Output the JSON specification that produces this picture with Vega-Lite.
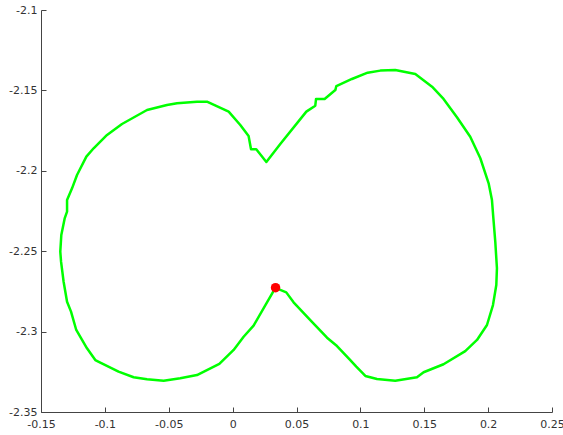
{
  "$schema": "https://vega.github.io/schema/vega-lite/v6.json",
  "width": 511,
  "height": 402,
  "autosize": {"type": "none"},
  "padding": {"left": 41, "top": 10, "right": 11, "bottom": 23},
  "background": "white",
  "config": {"view": {"stroke": null}},
  "datasets": {
    "curve": [
      {"i": 1, "x": 0.0336, "y": -2.2727},
      {"i": 2, "x": 0.0269, "y": -2.2818},
      {"i": 3, "x": 0.0164, "y": -2.2963},
      {"i": 4, "x": 0.0086, "y": -2.3032},
      {"i": 5, "x": 0.0008, "y": -2.3114},
      {"i": 6, "x": -0.0104, "y": -2.3201},
      {"i": 7, "x": -0.0279, "y": -2.327},
      {"i": 8, "x": -0.041, "y": -2.329},
      {"i": 9, "x": -0.054, "y": -2.3305},
      {"i": 10, "x": -0.067, "y": -2.3297},
      {"i": 11, "x": -0.0775, "y": -2.3284},
      {"i": 12, "x": -0.0893, "y": -2.3249},
      {"i": 13, "x": -0.1036, "y": -2.3193},
      {"i": 14, "x": -0.1075, "y": -2.3177},
      {"i": 15, "x": -0.114, "y": -2.3104},
      {"i": 16, "x": -0.1224, "y": -2.299},
      {"i": 17, "x": -0.1265, "y": -2.2876},
      {"i": 18, "x": -0.1296, "y": -2.2814},
      {"i": 19, "x": -0.1323, "y": -2.269},
      {"i": 20, "x": -0.1343, "y": -2.2565},
      {"i": 21, "x": -0.1349, "y": -2.2503},
      {"i": 22, "x": -0.1341, "y": -2.2399},
      {"i": 23, "x": -0.1314, "y": -2.2294},
      {"i": 24, "x": -0.1296, "y": -2.2254},
      {"i": 25, "x": -0.1296, "y": -2.2182},
      {"i": 26, "x": -0.1257, "y": -2.2109},
      {"i": 27, "x": -0.1218, "y": -2.2026},
      {"i": 28, "x": -0.1145, "y": -2.1912},
      {"i": 29, "x": -0.1088, "y": -2.186},
      {"i": 30, "x": -0.0983, "y": -2.1777},
      {"i": 31, "x": -0.0866, "y": -2.1709},
      {"i": 32, "x": -0.067, "y": -2.1622},
      {"i": 33, "x": -0.0514, "y": -2.1591},
      {"i": 34, "x": -0.0435, "y": -2.158},
      {"i": 35, "x": -0.0279, "y": -2.157},
      {"i": 36, "x": -0.0201, "y": -2.157},
      {"i": 37, "x": -0.0031, "y": -2.1632},
      {"i": 38, "x": 0.006, "y": -2.1715},
      {"i": 39, "x": 0.0125, "y": -2.1784},
      {"i": 40, "x": 0.0144, "y": -2.1866},
      {"i": 41, "x": 0.0185, "y": -2.1866},
      {"i": 42, "x": 0.0264, "y": -2.1945},
      {"i": 43, "x": 0.0373, "y": -2.1833},
      {"i": 44, "x": 0.0577, "y": -2.1632},
      {"i": 45, "x": 0.0647, "y": -2.1595},
      {"i": 46, "x": 0.0653, "y": -2.1553},
      {"i": 47, "x": 0.072, "y": -2.1553},
      {"i": 48, "x": 0.0804, "y": -2.1498},
      {"i": 49, "x": 0.0812, "y": -2.1473},
      {"i": 50, "x": 0.0934, "y": -2.1429},
      {"i": 51, "x": 0.1057, "y": -2.139},
      {"i": 52, "x": 0.1156, "y": -2.1377},
      {"i": 53, "x": 0.1273, "y": -2.1373},
      {"i": 54, "x": 0.143, "y": -2.1398},
      {"i": 55, "x": 0.1561, "y": -2.1477},
      {"i": 56, "x": 0.1651, "y": -2.1553},
      {"i": 57, "x": 0.1756, "y": -2.1667},
      {"i": 58, "x": 0.186, "y": -2.1788},
      {"i": 59, "x": 0.1939, "y": -2.1922},
      {"i": 60, "x": 0.2004, "y": -2.2078},
      {"i": 61, "x": 0.203, "y": -2.2182},
      {"i": 62, "x": 0.2041, "y": -2.2294},
      {"i": 63, "x": 0.2056, "y": -2.2441},
      {"i": 64, "x": 0.2069, "y": -2.2606},
      {"i": 65, "x": 0.2064, "y": -2.271},
      {"i": 66, "x": 0.2038, "y": -2.2835},
      {"i": 67, "x": 0.1991, "y": -2.2959},
      {"i": 68, "x": 0.1913, "y": -2.3052},
      {"i": 69, "x": 0.1821, "y": -2.3121},
      {"i": 70, "x": 0.1651, "y": -2.3203},
      {"i": 71, "x": 0.1495, "y": -2.3253},
      {"i": 72, "x": 0.1443, "y": -2.3284},
      {"i": 73, "x": 0.1273, "y": -2.3305},
      {"i": 74, "x": 0.113, "y": -2.3295},
      {"i": 75, "x": 0.1039, "y": -2.3276},
      {"i": 76, "x": 0.0968, "y": -2.3218},
      {"i": 77, "x": 0.0921, "y": -2.3177},
      {"i": 78, "x": 0.0817, "y": -2.309},
      {"i": 79, "x": 0.0739, "y": -2.3038},
      {"i": 80, "x": 0.0608, "y": -2.2928},
      {"i": 81, "x": 0.0477, "y": -2.2818},
      {"i": 82, "x": 0.042, "y": -2.2756},
      {"i": 83, "x": 0.0373, "y": -2.2741},
      {"i": 84, "x": 0.0336, "y": -2.2727}
    ],
    "start": [{"x": 0.0336, "y": -2.2727}]
  },
  "layer": [
    {
      "data": {"name": "curve"},
      "mark": {"type": "line", "color": "#00ff00", "strokeWidth": 2.5, "strokeJoin": "round", "clip": true},
      "encoding": {
        "x": {
          "field": "x", "type": "quantitative",
          "scale": {"domain": [-0.15, 0.25], "nice": false, "zero": false},
          "axis": {
            "title": null,
            "values": [-0.15, -0.1, -0.05, 0, 0.05, 0.1, 0.15, 0.2, 0.25],
            "labelExpr": "'' + datum.value",
            "grid": false,
            "tickSize": -5,
            "labelPadding": 11,
            "domainColor": "#444444",
            "tickColor": "#444444",
            "labelColor": "#333333",
            "labelFont": "DejaVu Sans",
            "labelFontSize": 11,
            "labelFlush": false
          }
        },
        "y": {
          "field": "y", "type": "quantitative",
          "scale": {"domain": [-2.35, -2.1], "nice": false, "zero": false},
          "axis": {
            "title": null,
            "values": [-2.35, -2.3, -2.25, -2.2, -2.15, -2.1],
            "labelExpr": "'' + datum.value",
            "grid": false,
            "tickSize": -5,
            "labelPadding": 9,
            "domainColor": "#444444",
            "tickColor": "#444444",
            "labelColor": "#333333",
            "labelFont": "DejaVu Sans",
            "labelFontSize": 11,
            "labelFlush": false
          }
        },
        "order": {"field": "i", "type": "quantitative"}
      }
    },
    {
      "data": {"name": "start"},
      "mark": {"type": "circle", "color": "#ff0000", "opacity": 1, "size": 90},
      "encoding": {
        "x": {"field": "x", "type": "quantitative"},
        "y": {"field": "y", "type": "quantitative"}
      }
    }
  ]
}
